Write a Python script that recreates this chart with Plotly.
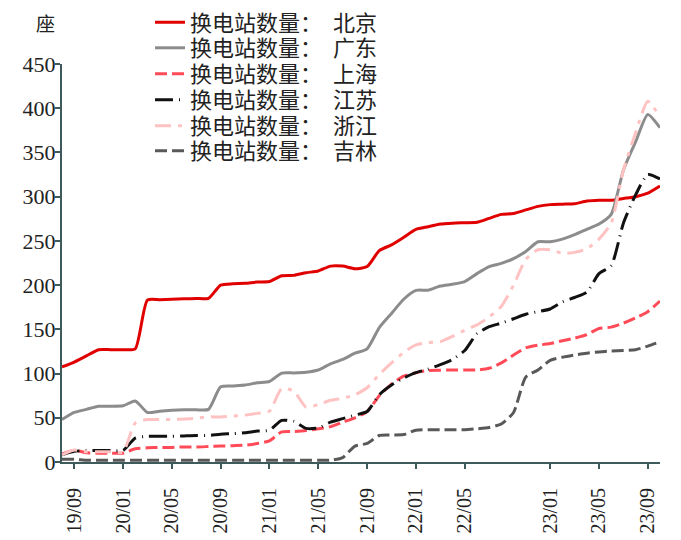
import plotly.graph_objects as go

# Monthly categories (one month absent from the source series)
months = [
    "19/08", "19/09", "19/10", "19/11", "19/12",
    "20/01", "20/02", "20/03", "20/04", "20/05", "20/06", "20/07", "20/08",
    "20/09", "20/10", "20/11", "20/12",
    "21/01", "21/02", "21/03", "21/04", "21/05", "21/06", "21/07", "21/08",
    "21/09", "21/10", "21/11", "21/12",
    "22/01", "22/02", "22/03", "22/04", "22/05", "22/06", "22/07", "22/08",
    "22/09", "22/11", "22/12",
    "23/01", "23/02", "23/03", "23/04", "23/05", "23/06", "23/07", "23/08",
    "23/09", "23/10",
]

tick_labels = ["19/09", "20/01", "20/05", "20/09", "21/01", "21/05", "21/09",
               "22/01", "22/05", "23/01", "23/05", "23/09"]

beijing = [107.5, 113, 120, 127, 127, 127, 128, 183, 183.5, 184, 184.5, 185, 185,
           200, 201.5, 202, 203.5, 204, 210.5, 211, 214, 216, 221.5, 221.5, 218.5,
           221, 239, 245.5, 254, 263, 266, 269, 270, 270.5, 271, 275.5, 280, 281,
           285, 289, 291, 291.5, 292, 295, 296, 296, 298, 300, 304, 312]

guangdong = [48, 56, 59.5, 63, 63, 63.5, 69, 56, 57.5, 58.5, 59, 59, 59.5,
             85, 86, 87, 89.5, 91, 100.5, 100.7, 101.5, 104, 111, 116, 123,
             128, 152, 168, 184, 194, 194.3, 199, 201, 204, 213, 221, 224.5, 230,
             238, 249, 249, 252, 257, 263, 269, 280, 330, 362, 393, 378]

shanghai = [9, 13, 10.5, 10, 10, 10, 15, 16, 16.5, 16.5, 17, 17, 17.5,
            18, 18.5, 19, 21, 24, 34, 34.5, 35.5, 37.5, 40, 45, 50,
            57, 75, 88, 97, 101, 103.5, 103.8, 104, 104, 104, 106, 112, 121,
            129, 132, 134, 137, 140, 144, 151, 152.5, 157, 163, 170, 182]

jiangsu = [8, 12, 13, 13, 13, 13, 27, 29, 29, 29, 29.5, 30, 30,
           31.5, 32, 33, 35, 36, 47, 46, 38, 38.5, 45, 49, 53,
           57, 76, 87, 95, 101, 105, 110, 116, 126, 145, 153, 157, 162,
           167, 170, 173, 181, 186, 192, 213, 222, 270, 302, 325, 320]

zhejiang = [8, 13.5, 11.5, 11.5, 11.5, 11.5, 44, 48, 48, 48, 48.5, 49.5, 51,
            51, 52, 53, 55, 57.5, 83, 80, 62, 65, 69.8, 72, 76,
            84, 99, 112, 124, 132.5, 135, 136, 142, 149, 155, 164, 176, 200,
            229, 240, 240, 236, 237, 241, 252, 270, 330, 372, 408, 390]

jilin = [3, 3, 2, 2, 2, 2, 2, 2, 2, 2, 2, 2, 2,
         2, 2, 2, 2, 2, 2, 2, 2, 2, 2, 5, 18,
         21, 30, 30.5, 31, 36, 36.5, 36.5, 36.5, 36.5, 37.5, 39, 43, 56,
         96, 104, 115, 118.5, 121, 123, 124.5, 125.5, 126, 127, 131, 136]

series = [
    ("换电站数量：  北京", beijing, "#E00000", "solid"),
    ("换电站数量：  广东", guangdong, "#8C8C8C", "solid"),
    ("换电站数量：  上海", shanghai, "#FF4B57", "12px,5px"),
    ("换电站数量：  江苏", jiangsu, "#111111", "18px,6px,1px,6px"),
    ("换电站数量：  浙江", zhejiang, "#FFC2C2", "16px,7px,4px,7px"),
    ("换电站数量：  吉林", jilin, "#595959", "12px,5px"),
]

# plot area geometry (px)
W, H = 681, 540
L, R, T, B = 62, 21, 64, 78
plot_h = H - T - B
plot_w = W - L - R

legend_rows_px = [22.5, 48, 74, 100, 126, 151]
cjk = "Liberation Serif, Noto Sans CJK SC, serif"
legend_font = dict(family=cjk, size=22, color="#222222")

fig = go.Figure()
layout_legends = {}
for i, (name, vals, color, dash) in enumerate(series):
    key = "legend" if i == 0 else f"legend{i + 1}"
    fig.add_trace(go.Scatter(
        x=months, y=vals, name=name, mode="lines", legend=key,
        line=dict(color=color, width=3, dash=dash, shape="spline", smoothing=0.6),
    ))
    layout_legends[key] = dict(
        x=(150 - L) / plot_w, y=1 + (T - legend_rows_px[i]) / plot_h,
        xanchor="left", yanchor="middle",
        bgcolor="rgba(0,0,0,0)", font=legend_font, itemwidth=30,
    )

axis_color = "#3E5A5A"
serif = "Liberation Serif, Times New Roman, serif"

fig.update_layout(
    width=W, height=H,
    margin=dict(l=L, r=R, t=T, b=B, autoexpand=False),
    paper_bgcolor="white", plot_bgcolor="white",
    showlegend=True,
    xaxis=dict(
        type="category", categoryorder="array", categoryarray=months,
        range=[0, len(months) - 1], automargin=False,
        tickmode="array", tickvals=tick_labels, ticktext=tick_labels,
        tickangle=-90, ticks="outside", ticklen=5, tickwidth=1.5,
        tickcolor=axis_color, showline=True, linecolor=axis_color, linewidth=2,
        showgrid=False, zeroline=False, ticklabelstandoff=11,
        tickfont=dict(family=serif, size=20, color="#222222"),
    ),
    yaxis=dict(
        range=[0, 450], dtick=50, ticks="outside", ticklen=5, tickwidth=1.5,
        tickcolor=axis_color, showline=True, linecolor=axis_color, linewidth=2,
        showgrid=False, zeroline=False, automargin=False, ticklabelstandoff=-5,
        tickfont=dict(family=serif, size=22, color="#222222"),
    ),
    annotations=[dict(
        text="座", xref="paper", yref="paper",
        x=(45 - L) / plot_w, y=1 + (T - 24) / plot_h,
        xanchor="center", yanchor="middle", showarrow=False,
        font=dict(family=cjk, size=19, color="#222222"),
    )],
    **layout_legends,
)

fig.write_html("out.html")
